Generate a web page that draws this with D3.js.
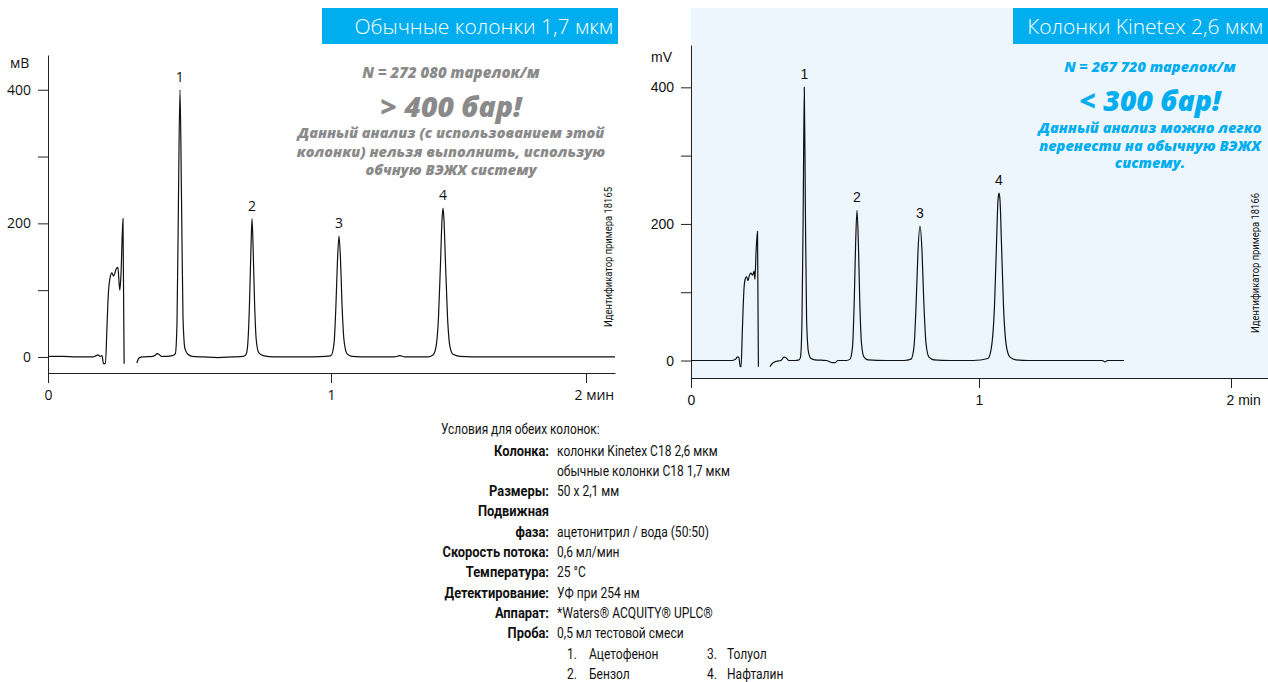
<!DOCTYPE html>
<html><head><meta charset="utf-8">
<script src="https://cdn.jsdelivr.net/npm/d3@7"></script>
<style>
html,body{margin:0;padding:0;background:#fff;}
svg{display:block;}
</style>
</head><body>
<svg id="chart" width="1268" height="682"></svg>
<script>
// ---------------- DATA ----------------
const xTickValues = [0, 1, 2];
const leftXLabels = ['0', '1', '2 мин'];
const rightXLabels = ['0', '1', '2 min'];
const yTickValues = [0, 100, 200, 300, 400];
const yTickLabels = ['0', '', '200', '', '400'];

const leftTitle = 'Обычные колонки 1,7 мкм';
const rightTitle = 'Колонки Kinetex 2,6 мкм';
const leftUnit = 'мВ';
const rightUnit = 'mV';

const leftNote = ['N = 272 080 тарелок/м', '> 400 бар!', 'Данный анализ (с использованием этой', 'колонки) нельзя выполнить, использую', 'обчную ВЭЖХ систему'];
const rightNote = ['N = 267 720 тарелок/м', '< 300 бар!', 'Данный анализ можно легко', 'перенести на обычную ВЭЖХ', 'систему.'];
const leftId = 'Идентификатор примера 18165';
const rightId = 'Идентификатор примера 18166';

// peaks: label, retention time (min), height (mV)
const leftPeakNames = ['1', '2', '3', '4'];
const leftPeakTimes = [0.466, 0.721, 1.031, 1.439];
const leftPeakHeights = [400, 207, 181, 223];
const rightPeakNames = ['1', '2', '3', '4'];
const rightPeakTimes = [0.3934, 0.5764, 0.7951, 1.0794];
const rightPeakHeights = [400, 220, 197, 245];

// chromatogram traces [time min, signal mV]; null = break in trace
const leftTrace = [
[0.000,1],[0.050,1],[0.100,0],[0.160,0],[0.170,2],[0.177,3],[0.184,1],[0.191,2],[0.196,-10],
[0.203,-10],[0.208,40],[0.212,85],[0.219,118],[0.226,126],[0.231,121],[0.236,125],[0.240,131],[0.247,134],[0.251,112],[0.254,100],[0.258,125],[0.265,207],[0.269,-10],
[0.290,null],
[0.314,-9],[0.321,-2],[0.332,0],[0.370,1],[0.380,3],[0.385,5],[0.392,4],[0.400,1],[0.420,1],[0.440,2],
[0.4500,5],[0.4558,50],[0.4611,240],[0.4664,400],[0.4717,240],[0.4770,60],[0.4841,12],[0.4947,4],[0.5088,1],
[0.550,0],[0.600,-1],[0.650,0],[0.690,1],
[0.7000,4],[0.7060,20],[0.7120,80],[0.7170,160],[0.7210,207],[0.7250,160],[0.7300,80],[0.7360,25],[0.7450,6],[0.7600,2],
[0.800,0],[0.900,0],[0.980,1],
[1.0000,2],[1.0118,20],[1.0196,80],[1.0255,145],[1.0314,181],[1.0373,145],[1.0431,80],[1.0510,25],[1.0627,5],[1.0820,1],
[1.150,0],[1.250,0],[1.270,2],[1.290,0],[1.380,0],
[1.4000,3],[1.4118,15],[1.4216,60],[1.4294,140],[1.4353,205],[1.4392,223],[1.4431,205],[1.4490,140],[1.4569,60],[1.4667,15],[1.4784,4],[1.5060,1],
[1.600,0],[1.800,0],[2.000,0],[2.114,0]
];
const rightTrace = [
[0.000,0],[0.050,0],[0.100,0],[0.140,0],[0.155,2],[0.160,5],[0.166,5],[0.171,-9],[0.174,-9],[0.178,40],[0.184,105],[0.188,119],[0.193,123],[0.198,117],[0.203,125],[0.208,128],[0.214,125],[0.219,131],[0.222,119],[0.226,160],[0.231,189],[0.234,-9],
[0.250,null],
[0.274,-9],[0.283,-4],[0.297,-1],[0.312,0],[0.323,5],[0.330,4],[0.340,0],[0.360,0],[0.375,1],
[0.3802,5],[0.3854,60],[0.3896,220],[0.3934,400],[0.3972,220],[0.4014,60],[0.4080,12],[0.4167,3],[0.4306,1],
[0.470,0],[0.490,-3],[0.500,-3],[0.510,0],[0.540,0],
[0.5521,2],[0.5608,20],[0.5670,90],[0.5715,170],[0.5764,220],[0.5813,170],[0.5858,90],[0.5920,25],[0.6007,5],[0.6146,1],
[0.680,0],[0.740,0],
[0.7639,2],[0.7743,20],[0.7823,90],[0.7882,160],[0.7951,197],[0.8021,160],[0.8080,90],[0.8160,25],[0.8264,5],[0.8438,1],
[0.900,0],[0.980,0],
[1.0357,3],[1.0496,20],[1.0615,80],[1.0694,170],[1.0754,235],[1.0794,245],[1.0833,235],[1.0893,170],[1.0972,80],[1.1091,20],[1.1230,5],[1.1468,1],
[1.200,0],[1.300,0],[1.400,0],[1.490,0],[1.500,-2],[1.510,0],[1.575,0]
];

// conditions block
const condHeader = 'Условия для обеих колонок:';
const condLabels = ['Колонка:', '', 'Размеры:', 'Подвижная', 'фаза:', 'Скорость потока:', 'Температура:', 'Детектирование:', 'Аппарат:', 'Проба:'];
const condValues = ['колонки Kinetex C18 2,6 мкм', 'обычные колонки C18 1,7 мкм', '50 x 2,1 мм', '', 'ацетонитрил / вода (50:50)', '0,6 мл/мин', '25 °C', 'УФ при 254 нм', '*Waters® ACQUITY® UPLC®', '0,5 мл тестовой смеси'];
const sampleNums = ['1.', '2.', '3.', '4.'];
const sampleNames = ['Ацетофенон', 'Бензол', 'Толуол', 'Нафталин'];

// ---------------- DRAW ----------------
const svg = d3.select('#chart');
const BLUE = '#00aeef';
const condFont = 'Roboto, "Open Sans", sans-serif';

// right panel background
svg.append('rect').attr('x', 691).attr('y', 8).attr('width', 577).attr('height', 370).attr('fill', '#eef6fd');

function panel(cfg) {
  const x = d3.scaleLinear().domain(cfg.xDomain).range(cfg.xRange);
  const y = d3.scaleLinear().domain(cfg.yDomain).range(cfg.yRange);
  const g = svg.append('g');
  const baseY = cfg.yRange[0];
  const axisX = cfg.xRange[0];

  // title box
  g.append('rect').attr('x', cfg.box[0]).attr('y', cfg.box[1]).attr('width', cfg.box[2]).attr('height', cfg.box[3]).attr('fill', BLUE);
  g.append('text').attr('x', cfg.box[0] + cfg.box[2] - 5).attr('y', cfg.box[1] + cfg.box[3] / 2 + 7.5)
    .attr('text-anchor', 'end').attr('fill', '#fff')
    .style('font-family', '"Open Sans", "Noto Sans", sans-serif').style('font-weight', 300).style('font-size', '21px')
    .text(cfg.title);

  // x axis
  const xa = g.append('g').attr('transform', `translate(0,${baseY})`)
    .call(d3.axisBottom(x).tickValues(xTickValues).tickSize(10).tickSizeOuter(0).tickPadding(7).tickFormat((d, i) => cfg.xLabels[i]));
  // y axis
  const ya = g.append('g').attr('transform', `translate(${axisX},0)`)
    .call(d3.axisLeft(y).tickValues(yTickValues).tickSize(10).tickSizeOuter(0).tickPadding(7).tickFormat((d, i) => yTickLabels[i]));
  [xa, ya].forEach(a => {
    a.selectAll('path,line').attr('stroke', '#222').attr('stroke-width', 1);
    a.selectAll('text').attr('fill', '#111').style('font-family', cfg.axisFont).style('font-size', '14px');
  });
  xa.selectAll('.tick').filter((d) => d === 2).select('text').attr('text-anchor', 'start').attr('dx', cfg.lastDx);

  // unit
  g.append('text').attr('x', cfg.unitPos[0]).attr('y', cfg.unitPos[1]).attr('fill', '#111')
    .style('font-family', cfg.axisFont).style('font-size', '14px').text(cfg.unit);

  // trace
  const line = d3.line().defined(d => d[1] !== null).x(d => x(d[0])).y(d => y(d[1])).curve(d3.curveMonotoneX);
  g.append('path').datum(cfg.trace).attr('d', line).attr('fill', 'none').attr('stroke', '#111').attr('stroke-width', 1.2);

  // peak labels
  g.selectAll('.pk').data(cfg.peakNames).enter().append('text')
    .attr('x', (d, i) => x(cfg.peakTimes[i])).attr('y', (d, i) => y(cfg.peakHeights[i]) - 8)
    .attr('text-anchor', 'middle').attr('fill', '#111')
    .style('font-family', cfg.axisFont).style('font-size', '14px').text(d => d);

  // notes
  const nf = '"Open Sans", "Noto Sans", sans-serif';
  const note = g.append('g').attr('fill', cfg.noteColor).style('font-family', nf).style('font-style', 'italic').style('font-weight', 800).attr('text-anchor', 'middle');
  note.append('text').attr('x', cfg.noteX).attr('y', cfg.noteY[0]).style('font-size', cfg.noteSizes[0] + 'px').text(cfg.note[0]);
  note.append('text').attr('x', cfg.noteX).attr('y', cfg.noteY[1]).style('font-size', cfg.noteSizes[1] + 'px').text(cfg.note[1]);
  for (let i = 2; i < 5; i++) {
    note.append('text').attr('x', cfg.noteX).attr('y', cfg.noteY[i]).style('font-size', cfg.noteSizes[2] + 'px').text(cfg.note[i]);
  }

  // rotated id
  g.append('text').attr('transform', `translate(${cfg.idPos[0]},${cfg.idPos[1]}) rotate(-90) scale(0.82,1)`)
    .attr('text-anchor', 'middle').attr('fill', '#111').style('font-family', condFont).style('font-size', '11.5px').text(cfg.id);
}

panel({
  xDomain: [0, 1, 2, 2.114], xRange: [48, 331, 586, 615],
  yDomain: [-24, 452], yRange: [373, 55],
  box: [322, 8, 296, 36], title: leftTitle,
  xLabels: leftXLabels, lastDx: -12, unit: leftUnit, unitPos: [10, 68],
  axisFont: '"Open Sans", "Noto Sans", sans-serif',
  trace: leftTrace, peakNames: leftPeakNames, peakTimes: leftPeakTimes, peakHeights: leftPeakHeights,
  note: leftNote, noteColor: '#8a8a8a', noteX: 451, noteY: [78, 117, 138, 156.5, 174.5], noteSizes: [15, 28.5, 14.5],
  id: leftId, idPos: [612, 257]
});
panel({
  xDomain: [0, 1, 2, 2.147], xRange: [691, 979, 1231, 1268],
  yDomain: [-25.6, 462], yRange: [378, 45],
  box: [1013, 8, 255, 36], title: rightTitle,
  xLabels: rightXLabels, lastDx: -5, unit: rightUnit, unitPos: [651, 62],
  axisFont: '"Liberation Sans", Arial, sans-serif',
  trace: rightTrace, peakNames: rightPeakNames, peakTimes: rightPeakTimes, peakHeights: rightPeakHeights,
  note: rightNote, noteColor: BLUE, noteX: 1150, noteY: [72, 111, 133, 150.5, 168], noteSizes: [14.5, 28.5, 14.5],
  id: rightId, idPos: [1259, 263]
});

// conditions block
const cond = svg.append('g').attr('fill', '#111').style('font-family', condFont).style('font-size', '14px');
const rowY = d3.scaleLinear().domain([0, 1]).range([455.5, 475.8]);
function sq(sel, xf, yf, s) { return sel.attr('transform', (d, i) => `translate(${xf(d, i)},${yf(d, i)}) scale(${s},1)`); }
sq(cond.append('text').datum(condHeader), () => 441, () => 434, 0.85).text(d => d);
sq(cond.selectAll('.cl').data(condLabels).enter().append('text'), () => 549, (d, i) => rowY(i), 0.92)
  .attr('text-anchor', 'end').style('font-weight', 700).text(d => d);
sq(cond.selectAll('.cv').data(condValues).enter().append('text'), () => 557, (d, i) => rowY(i), 0.86).text(d => d);
sq(cond.selectAll('.sn').data(sampleNums).enter().append('text'), (d, i) => i < 2 ? 567 : 707, (d, i) => rowY(10 + (i % 2)), 0.86).text(d => d);
sq(cond.selectAll('.sm').data(sampleNames).enter().append('text'), (d, i) => i < 2 ? 589 : 727, (d, i) => rowY(10 + (i % 2)), 0.86).text(d => d);
</script>
</body></html>
